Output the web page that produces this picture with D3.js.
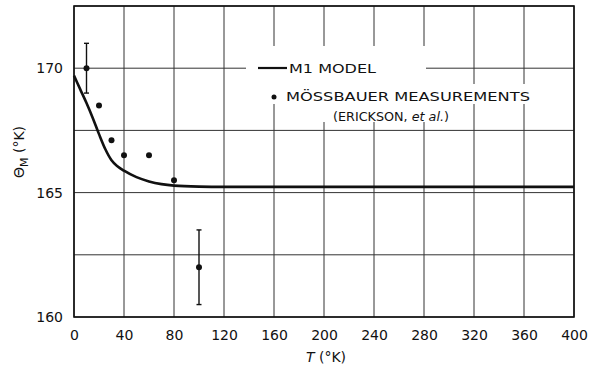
<!DOCTYPE html>
<html><head><meta charset="utf-8">
<script src="https://cdn.jsdelivr.net/npm/d3@7"></script>
<style>body{margin:0;background:#fff}svg{display:block}</style>
</head><body>
<svg id="c" width="592" height="368"></svg>
<script>
// Model curve (M1 MODEL)
const modelT = [0,5,10,15,20,25,30,35,40,50,60,70,80,100,120,160,200,240,280,320,360,400];
const modelTheta = [169.7,169.15,168.6,168.0,167.35,166.75,166.3,166.05,165.88,165.62,165.45,165.34,165.28,165.24,165.23,165.23,165.23,165.23,165.23,165.23,165.23,165.23];
// Mössbauer measurements
const measT = [10,20,30,40,60,80,100];
const measTheta = [170,168.5,167.1,166.5,166.5,165.5,162];
const errLow = [169,null,null,null,null,null,160.5];
const errHigh = [171,null,null,null,null,null,163.5];
// Axis ticks
const xTicks = [0,40,80,120,160,200,240,280,320,360,400];
const yGrid = [160,162.5,165,167.5,170,172.5];
const yLabels = [160,165,170];

const svg = d3.select("#c");
const L=74,R=574,T=6,B=317;
const x = d3.scaleLinear().domain([0,400]).range([L,R]);
const y = d3.scaleLinear().domain([160,172.5]).range([B,T]);
const font = "'DejaVu Sans', 'Liberation Sans', sans-serif";

// grid
svg.append("g").selectAll("line").data(xTicks).join("line")
  .attr("x1",d=>x(d)).attr("x2",d=>x(d)).attr("y1",T).attr("y2",B)
  .attr("stroke","#333").attr("stroke-width",1);
svg.append("g").selectAll("line").data(yGrid).join("line")
  .attr("x1",L).attr("x2",R).attr("y1",d=>y(d)).attr("y2",d=>y(d))
  .attr("stroke","#333").attr("stroke-width",1);

// legend background patches (white, hiding grid)
const leg = svg.append("g");
leg.append("rect").attr("x",246).attr("y",46).attr("width",180).attr("height",40).attr("fill","#fff");
leg.append("rect").attr("x",268).attr("y",84).attr("width",266).attr("height",20).attr("fill","#fff");
leg.append("rect").attr("x",310).attr("y",103).attr("width",160).attr("height",19).attr("fill","#fff");

// frame
svg.append("rect").attr("x",L).attr("y",T).attr("width",R-L).attr("height",B-T)
  .attr("fill","none").attr("stroke","#111").attr("stroke-width",1.6);

// axes labels
const xAxis = d3.axisBottom(x).tickValues(xTicks).tickSize(0).tickPadding(0).tickFormat(d3.format("d"));
const gx = svg.append("g").attr("transform",`translate(0,${B})`).call(xAxis);
gx.select(".domain").remove();
gx.selectAll("text").attr("y",13).attr("dy","0.71em").attr("font-size",14).attr("font-family",font).attr("fill","#111");

const yAxis = d3.axisLeft(y).tickValues(yLabels).tickSize(0).tickPadding(11).tickFormat(d3.format("d"));
const gy = svg.append("g").attr("transform",`translate(${L},0)`).call(yAxis);
gy.select(".domain").remove();
gy.selectAll("text").attr("font-size",14).attr("font-family",font).attr("fill","#111");

// model curve
const line = d3.line().x((d,i)=>x(modelT[i])).y(d=>y(d)).curve(d3.curveMonotoneX);
svg.append("path").datum(modelTheta).attr("d",line).attr("fill","none")
  .attr("stroke","#111").attr("stroke-width",2.6);

// error bars
const eb = measT.map((t,i)=>({t,lo:errLow[i],hi:errHigh[i]})).filter(d=>d.lo!=null);
const ge = svg.append("g").attr("stroke","#111").attr("stroke-width",1.4);
ge.selectAll(".v").data(eb).join("line").attr("x1",d=>x(d.t)).attr("x2",d=>x(d.t)).attr("y1",d=>y(d.lo)).attr("y2",d=>y(d.hi));
ge.selectAll(".h").data(eb).join("line").attr("x1",d=>x(d.t)-2.5).attr("x2",d=>x(d.t)+2.5).attr("y1",d=>y(d.hi)).attr("y2",d=>y(d.hi));
ge.selectAll(".l").data(eb).join("line").attr("x1",d=>x(d.t)-2.5).attr("x2",d=>x(d.t)+2.5).attr("y1",d=>y(d.lo)).attr("y2",d=>y(d.lo));

// points
svg.append("g").selectAll("circle").data(measT).join("circle")
  .attr("cx",d=>x(d)).attr("cy",(d,i)=>y(measTheta[i])).attr("r",3).attr("fill","#111");

// legend
leg.append("line").attr("x1",258).attr("x2",287).attr("y1",68).attr("y2",68).attr("stroke","#111").attr("stroke-width",2.2);
leg.append("text").attr("x",289).attr("y",73).text("M1 MODEL").attr("font-size",12).attr("font-family",font).attr("fill","#111").attr("textLength",87).attr("lengthAdjust","spacingAndGlyphs");
leg.append("circle").attr("cx",274).attr("cy",97).attr("r",2.5).attr("fill","#111");
leg.append("text").attr("x",286).attr("y",101).text("MÖSSBAUER MEASUREMENTS").attr("font-size",12).attr("font-family",font).attr("fill","#111").attr("textLength",244).attr("lengthAdjust","spacingAndGlyphs");
const t3 = leg.append("text").attr("x",333).attr("y",121).attr("font-size",12).attr("font-family",font).attr("fill","#111").attr("textLength",116).attr("lengthAdjust","spacingAndGlyphs");
t3.append("tspan").text("(ERICKSON, ");
t3.append("tspan").attr("font-style","italic").text("et al.");
t3.append("tspan").text(")");

// axis titles
const xt = svg.append("text").attr("x",326).attr("y",362).attr("text-anchor","middle").attr("font-size",14).attr("font-family",font).attr("fill","#111");
xt.append("tspan").attr("font-style","italic").text("T");
xt.append("tspan").text(" (°K)");
const yt = svg.append("text").attr("transform","translate(24,152) rotate(-90)").attr("text-anchor","middle").attr("font-size",14).attr("font-family",font).attr("fill","#111");
yt.append("tspan").text("Θ");
yt.append("tspan").attr("font-size",11).attr("dy",4).text("M");
yt.append("tspan").attr("dy",-4).text(" (°K)");
</script>
</body></html>
